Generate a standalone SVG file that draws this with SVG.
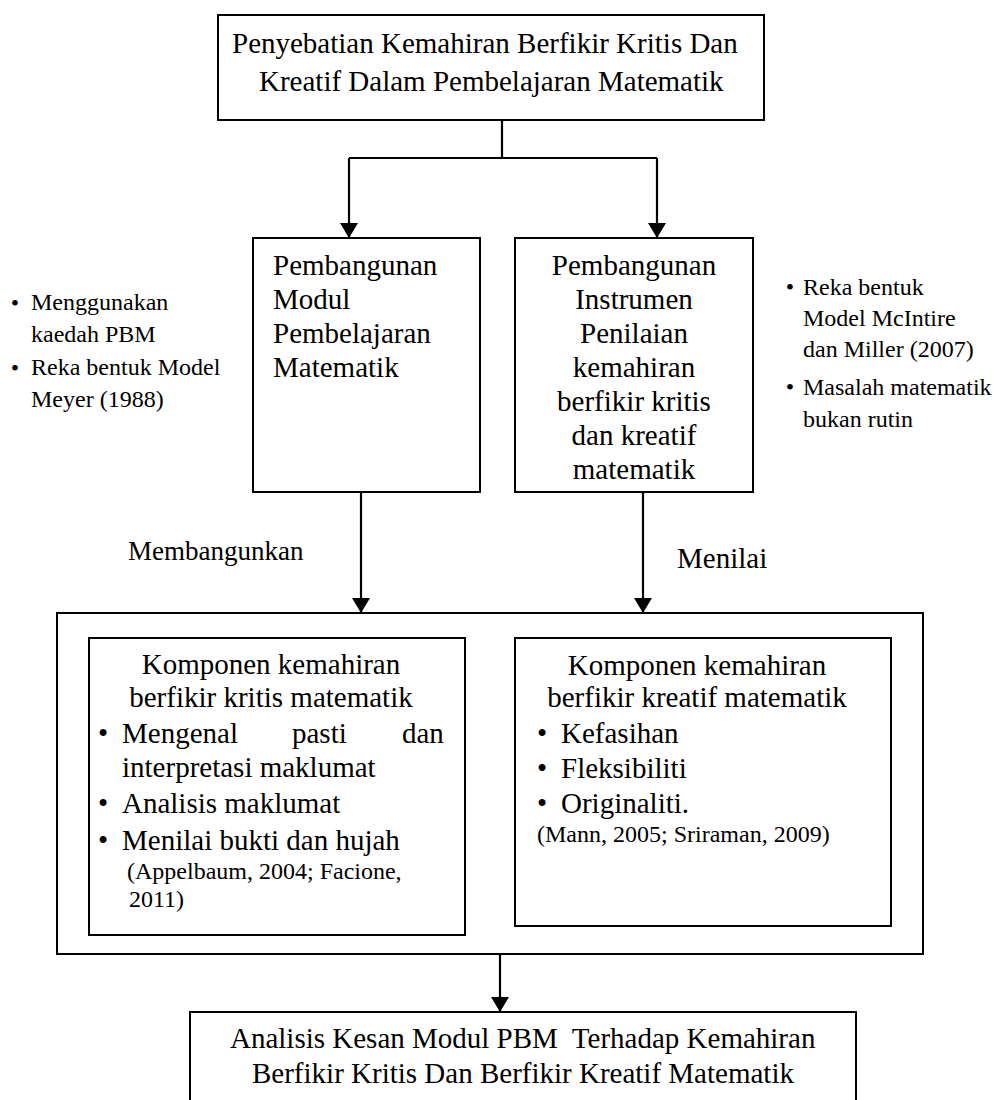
<svg xmlns="http://www.w3.org/2000/svg" width="993" height="1100" viewBox="0 0 993 1100">
<style>
.box{fill:#fff;stroke:#000;stroke-width:2}
.conn{fill:none;stroke:#000;stroke-width:2.2}
text{font-family:"Liberation Serif","Times New Roman",serif;font-size:29px;fill:#000}
.s{font-size:24px}
.m{text-anchor:middle}
.pre{white-space:pre}
</style>
<defs>
<marker id="arr" markerUnits="userSpaceOnUse" viewBox="0 0 15 18" markerWidth="15" markerHeight="18" refX="15" refY="9" orient="auto">
<path d="M0,0 L15,9 L0,18 z" fill="#000"/>
</marker>
</defs>
<rect width="993" height="1100" fill="#fff"/>

<g id="connectors">
<path class="conn" d="M502,120 V158"/>
<path class="conn" d="M349,158 H657"/>
<path class="conn" d="M349,158 V238" marker-end="url(#arr)"/>
<path class="conn" d="M657,158 V238" marker-end="url(#arr)"/>
<path class="conn" d="M361,492 V613" marker-end="url(#arr)"/>
<path class="conn" d="M643,492 V613" marker-end="url(#arr)"/>
<path class="conn" d="M500,954 V1012" marker-end="url(#arr)"/>
</g>

<g id="top">
<rect class="box" x="218" y="15" width="546" height="105"/>
<text x="232" y="53">Penyebatian Kemahiran Berfikir Kritis Dan</text>
<text x="259" y="91">Kreatif Dalam Pembelajaran Matematik</text>
</g>

<g id="modul">
<rect class="box" x="253" y="238" width="227" height="254"/>
<text x="273" y="275">Pembangunan</text>
<text x="273" y="309">Modul</text>
<text x="273" y="343">Pembelajaran</text>
<text x="273" y="377">Matematik</text>
</g>

<g id="instrumen">
<rect class="box" x="515" y="238" width="238" height="254"/>
<text class="m" x="634" y="275">Pembangunan</text>
<text class="m" x="634" y="309">Instrumen</text>
<text class="m" x="634" y="343">Penilaian</text>
<text class="m" x="634" y="377">kemahiran</text>
<text class="m" x="634" y="411">berfikir kritis</text>
<text class="m" x="634" y="445">dan kreatif</text>
<text class="m" x="634" y="479">matematik</text>
</g>

<g id="notes-left">
<text class="s m" x="15" y="311">•</text>
<text class="s" x="31" y="310">Menggunakan</text>
<text class="s" x="31" y="342">kaedah PBM</text>
<text class="s m" x="15" y="376">•</text>
<text class="s" x="31" y="375">Reka bentuk Model</text>
<text class="s" x="31" y="407">Meyer (1988)</text>
</g>

<g id="notes-right">
<text class="s m" x="790" y="295">•</text>
<text class="s" x="803" y="295">Reka bentuk</text>
<text class="s" x="803" y="326">Model McIntire</text>
<text class="s" x="803" y="357">dan Miller (2007)</text>
<text class="s m" x="790" y="395">•</text>
<text class="s" x="803" y="395">Masalah matematik</text>
<text class="s" x="803" y="427">bukan rutin</text>
</g>

<g id="labels">
<text x="128" y="560" style="font-size:27px">Membangunkan</text>
<text x="677" y="568">Menilai</text>
</g>

<g id="komponen">
<rect class="box" x="57" y="613" width="866" height="341"/>
<g id="kritis">
<rect class="box" x="89" y="638" width="376" height="297"/>
<text class="m" x="271" y="674">Komponen kemahiran</text>
<text class="m" x="271" y="707">berfikir kritis matematik</text>
<text class="m" x="103" y="743">•</text>
<text y="743"><tspan x="122">Mengenal</tspan><tspan x="292">pasti</tspan><tspan x="402">dan</tspan></text>
<text x="122" y="777">interpretasi maklumat</text>
<text class="m" x="103" y="813">•</text>
<text x="122" y="813">Analisis maklumat</text>
<text class="m" x="103" y="850">•</text>
<text x="122" y="850">Menilai bukti dan hujah</text>
<text class="s" x="127" y="879">(Appelbaum, 2004; Facione,</text>
<text class="s" x="129" y="907">2011)</text>
</g>
<g id="kreatif">
<rect class="box" x="515" y="638" width="376" height="288"/>
<text class="m" x="697" y="675">Komponen kemahiran</text>
<text class="m" x="697" y="707">berfikir kreatif matematik</text>
<text class="m" x="542" y="743">•</text>
<text x="561" y="743">Kefasihan</text>
<text class="m" x="542" y="778">•</text>
<text x="561" y="778">Fleksibiliti</text>
<text class="m" x="542" y="813">•</text>
<text x="561" y="813">Originaliti.</text>
<text class="s" x="537" y="842">(Mann, 2005; Sriraman, 2009)</text>
</g>
</g>

<g id="analisis">
<rect class="box" x="190" y="1012" width="666" height="120"/>
<text class="pre" x="230" y="1048">Analisis Kesan Modul PBM  Terhadap Kemahiran</text>
<text x="252" y="1083">Berfikir Kritis Dan Berfikir Kreatif Matematik</text>
</g>
</svg>
